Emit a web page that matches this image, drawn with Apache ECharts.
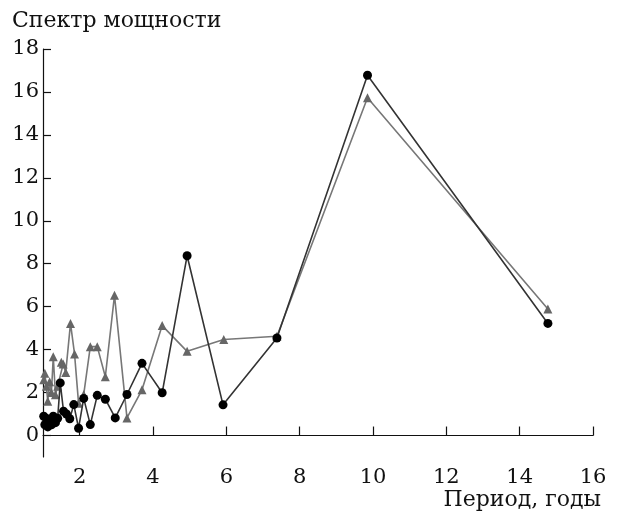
<!DOCTYPE html>
<html><head><meta charset="utf-8">
<script src="https://cdn.jsdelivr.net/npm/echarts@6/dist/echarts.min.js"></script>
<style>html,body{margin:0;padding:0;background:#fff}#c{width:619px;height:517px}</style>
</head><body><div id="c"></div>
<script>
// Period (years) and power spectrum values
const periodsCircle = [14.77, 9.85, 7.38, 5.91, 4.93, 4.25, 3.70, 3.29, 2.97, 2.70, 2.48, 2.29, 2.11, 1.97, 1.84, 1.73, 1.64, 1.56, 1.47, 1.40, 1.34, 1.28, 1.23, 1.18, 1.13, 1.09, 1.05, 1.02];
const powerCircle   = [5.22, 16.78, 4.54, 1.43, 8.37, 1.99, 3.36, 1.91, 0.82, 1.69, 1.87, 0.51, 1.73, 0.34, 1.44, 0.78, 1.0, 1.13, 2.45, 0.8, 0.6, 0.9, 0.5, 0.7, 0.4, 0.8, 0.5, 0.9];
const periodsTri    = [14.77, 9.85, 7.38, 5.93, 4.93, 4.25, 3.70, 3.29, 2.95, 2.70, 2.48, 2.29, 2.11, 1.97, 1.86, 1.75, 1.62, 1.55, 1.50, 1.40, 1.34, 1.28, 1.23, 1.18, 1.13, 1.09, 1.05, 1.02];
const powerTri      = [5.89, 15.73, 4.62, 4.47, 3.92, 5.12, 2.13, 0.82, 6.53, 2.74, 4.14, 4.14, 1.9, 1.5, 3.80, 5.22, 2.94, 3.33, 3.41, 2.3, 1.9, 3.67, 2.0, 2.5, 1.6, 2.3, 2.9, 2.6];
const xTicks = [2, 4, 6, 8, 10, 12, 14, 16];
const yTicks = [0, 2, 4, 6, 8, 10, 12, 14, 16, 18];
const yTitle = 'Спектр мощности';
const xTitle = 'Период, годы';

const font = 'DejaVu Serif';
const chart = echarts.init(document.getElementById('c'), null, {renderer: 'canvas'});
const pairs = (xs, ys) => xs.map((x, i) => [x, ys[i]]);
chart.setOption({
  animation: false,
  backgroundColor: '#fff',
  textStyle: {fontFamily: font},
  grid: {left: 43, right: 26, top: 49, bottom: 60, containLabel: false},
  title: [
    {text: yTitle, left: 7, top: 5, textStyle: {fontFamily: font, fontSize: 22, fontWeight: 'normal', color: '#111'}},
    {text: xTitle, right: 13, top: 484, textStyle: {fontFamily: font, fontSize: 22, fontWeight: 'normal', color: '#111'}}
  ],
  xAxis: {
    type: 'value', min: 1, max: 16,
    axisLine: {lineStyle: {color: '#111', width: 1.2}},
    axisTick: {inside: true, length: 9, lineStyle: {color: '#111', width: 1.2}, customValues: xTicks},
    axisLabel: {customValues: xTicks, fontFamily: font, fontSize: 21, color: '#111', margin: 10},
    splitLine: {show: false}
  },
  yAxis: {
    type: 'value', min: -1, max: 18,
    axisLine: {show: true, lineStyle: {color: '#111', width: 1.2}},
    axisTick: {show: true, inside: true, length: 8, lineStyle: {color: '#111', width: 1.2}, customValues: yTicks},
    axisLabel: {customValues: yTicks, fontFamily: font, fontSize: 21, color: '#111', margin: 4},
    splitLine: {show: false}
  },
  series: [
    {type: 'line', data: pairs(periodsTri, powerTri), symbol: 'triangle', symbolSize: 9,
     lineStyle: {color: '#777', width: 1.6}, itemStyle: {color: '#666'}, z: 2},
    {type: 'line', data: pairs(periodsCircle, powerCircle), symbol: 'circle', symbolSize: 9,
     lineStyle: {color: '#333', width: 1.6}, itemStyle: {color: '#000'}, z: 3}
  ]
});
</script></body></html>
